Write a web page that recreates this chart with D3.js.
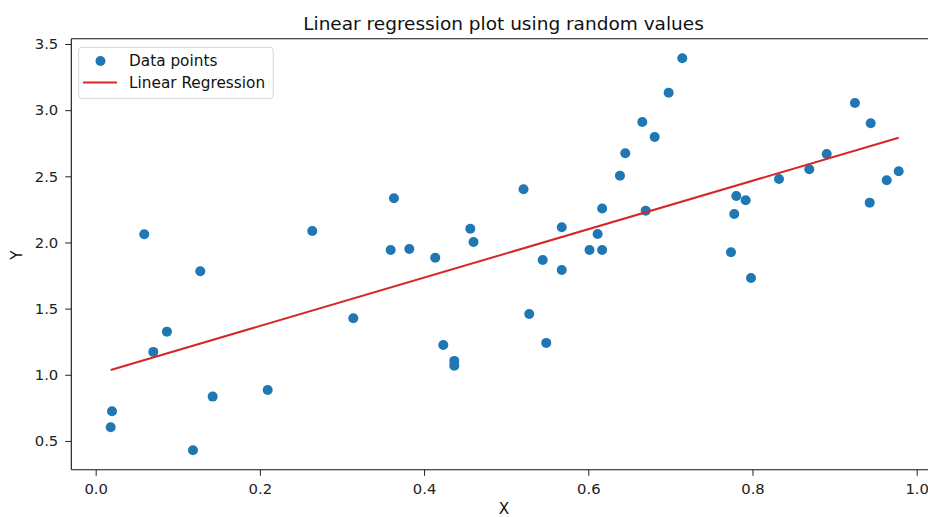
<!DOCTYPE html>
<html>
<head>
<meta charset="utf-8">
<script src="https://cdn.jsdelivr.net/npm/d3@7"></script>
<style>
  html, body { margin: 0; padding: 0; background: #fff; }
  svg { display: block; font-family: "DejaVu Sans", sans-serif; }
</style>
</head>
<body>
<svg id="chart" width="928" height="517"></svg>
<script>
// Sampled points
const xValues = [0.0199, 0.0183, 0.0592, 0.0702, 0.0868, 0.1274, 0.1185, 0.1425, 0.2095, 0.2638,
  0.3138, 0.3593, 0.3633, 0.3820, 0.4136, 0.4234, 0.4368, 0.4368, 0.4563, 0.4602,
  0.5211, 0.5281, 0.5445, 0.5488, 0.5677, 0.5677, 0.6015, 0.6114, 0.6169, 0.6169,
  0.6386, 0.6451, 0.6658, 0.6699, 0.6809, 0.6979, 0.7145, 0.7738, 0.7778, 0.7803,
  0.7917, 0.7982, 0.8323, 0.8692, 0.8904, 0.9248, 0.9440, 0.9428, 0.9635, 0.9781];
const yValues = [0.724, 0.604, 2.062, 1.173, 1.326, 1.782, 0.430, 0.835, 0.885, 2.087,
  1.427, 1.943, 2.334, 1.951, 1.885, 1.225, 1.105, 1.069, 2.104, 2.004,
  2.402, 1.460, 1.868, 1.241, 2.115, 1.792, 1.943, 2.064, 2.257, 1.943,
  2.505, 2.674, 2.911, 2.240, 2.797, 3.132, 3.392, 1.926, 2.215, 2.351,
  2.319, 1.732, 2.480, 2.553, 2.669, 3.054, 2.901, 2.301, 2.470, 2.538];

// Fitted line: intercept and slope
const fitIntercept = 1.003;
const fitSlope = 1.829;

const xTicks = [0.0, 0.2, 0.4, 0.6, 0.8, 1.0];
const yTicks = [0.5, 1.0, 1.5, 2.0, 2.5, 3.0, 3.5];

const svg = d3.select("#chart");
const plotLeft = 71.3, plotTop = 38.7, plotBottom = 469.8;
const plotRight = 938.1;

function padded(ext) {
  const span = ext[1] - ext[0];
  return [ext[0] - 0.05 * span, ext[1] + 0.05 * span];
}

const x = d3.scaleLinear().domain(padded(d3.extent(xValues))).range([plotLeft, plotRight]);
const y = d3.scaleLinear().domain(padded(d3.extent(yValues))).range([plotBottom, plotTop]);

const tickColor = "#222";
const tickFont = 14.8;
const legendFont = 15.3;

// Axes
const xAxis = d3.axisBottom(x).tickValues(xTicks).tickFormat(d3.format(".1f"))
  .tickSizeInner(6).tickSizeOuter(0).tickPadding(8);
const yAxis = d3.axisLeft(y).tickValues(yTicks).tickFormat(d3.format(".1f"))
  .tickSizeInner(6).tickSizeOuter(0).tickPadding(7);

const gx = svg.append("g").attr("transform", `translate(0,${plotBottom})`).call(xAxis);
const gy = svg.append("g").attr("transform", `translate(${plotLeft},0)`).call(yAxis);
[gx, gy].forEach(g => {
  g.select(".domain").remove();
  g.selectAll(".tick line").attr("stroke", tickColor).attr("stroke-width", 1);
  g.selectAll(".tick text").attr("fill", "#222").style("font-size", tickFont + "px")
    .style("font-family", "'DejaVu Sans', sans-serif");
});

// Spines (the right edge falls outside the canvas)
const spines = svg.append("g").attr("stroke", "#111").attr("stroke-width", 1.1).attr("fill", "none");
spines.append("line").attr("x1", plotLeft).attr("x2", plotLeft).attr("y1", plotTop).attr("y2", plotBottom);
spines.append("line").attr("x1", plotLeft).attr("x2", plotRight).attr("y1", plotBottom).attr("y2", plotBottom);
spines.append("line").attr("x1", plotLeft).attr("x2", plotRight).attr("y1", plotTop).attr("y2", plotTop);
spines.append("line").attr("x1", plotRight).attr("x2", plotRight).attr("y1", plotTop).attr("y2", plotBottom);

// Scatter
const pts = xValues.map((v, i) => ({ x: v, y: yValues[i] }));
svg.append("g").selectAll("circle").data(pts).join("circle")
  .attr("cx", d => x(d.x)).attr("cy", d => y(d.y)).attr("r", 5)
  .attr("fill", "#1f77b4");

// Regression line over the data range
const xr = d3.extent(xValues);
const lineData = xr.map(v => ({ x: v, y: fitIntercept + fitSlope * v }));
svg.append("path").datum(lineData)
  .attr("d", d3.line().x(d => x(d.x)).y(d => y(d.y)))
  .attr("stroke", "#d62728").attr("stroke-width", 2).attr("fill", "none");

// Title and axis labels
svg.append("text").attr("x", 503.5).attr("y", 29.5)
  .attr("text-anchor", "middle").style("font-size", "18.5px").attr("fill", "#111")
  .text("Linear regression plot using random values");
svg.append("text").attr("x", 504).attr("y", 514)
  .attr("text-anchor", "middle").style("font-size", legendFont + "px").attr("fill", "#111")
  .text("X");
svg.append("text").attr("transform", "translate(22,255) rotate(-90)")
  .attr("text-anchor", "middle").style("font-size", legendFont + "px").attr("fill", "#111")
  .text("Y");

// Legend
const lg = svg.append("g");
lg.append("rect").attr("x", 78.7).attr("y", 47.3).attr("width", 194.5).attr("height", 51)
  .attr("rx", 3).attr("fill", "#fff").attr("fill-opacity", 0.8)
  .attr("stroke", "#d5d5d5").attr("stroke-width", 1);
lg.append("circle").attr("cx", 100.5).attr("cy", 61).attr("r", 5).attr("fill", "#1f77b4");
lg.append("line").attr("x1", 83).attr("x2", 117).attr("y1", 82.5).attr("y2", 82.5)
  .attr("stroke", "#d62728").attr("stroke-width", 2);
lg.append("text").attr("x", 129).attr("y", 60.5).attr("dy", "0.35em")
  .style("font-size", legendFont + "px").attr("fill", "#111").text("Data points");
lg.append("text").attr("x", 129).attr("y", 83).attr("dy", "0.35em")
  .style("font-size", legendFont + "px").attr("fill", "#111").text("Linear Regression");
</script>
</body>
</html>
